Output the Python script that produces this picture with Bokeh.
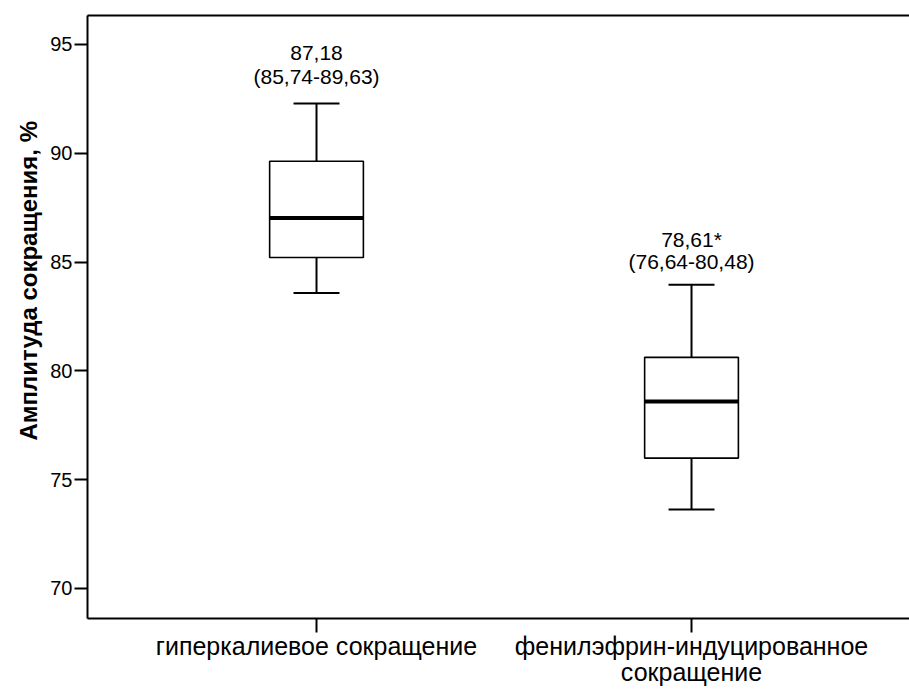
from bokeh.plotting import figure
from bokeh.models import ColumnDataSource, Range1d, FixedTicker, LinearAxis, Title
from bokeh.core.properties import value
from bokeh.transform import dodge
from bokeh.embed import file_html
from bokeh.resources import INLINE

# ---- data ----
categories = ["гиперкалиевое сокращение", "фенилэфрин-индуцированное\nсокращение"]
whisker_low = [83.58, 73.63]
q1 = [85.21, 75.99]
median = [87.03, 78.59]
q3 = [89.63, 80.62]
whisker_high = [92.29, 83.96]
label_value = ["87,18", "78,61*"]
label_ci = ["(85,74-89,63)", "(76,64-80,48)"]
y_ticks = [70, 75, 80, 85, 90, 95]
y_title = "Амплитуда сокращения, %"

# ---- style ----
FONT = "Liberation Sans"
Y_START, Y_END = 68.62, 96.33
VALUE_OFFSETS = [-50, -45]   # px above the upper whisker
CI_OFFSETS = [-27, -23]

positions = list(range(len(categories)))
src = ColumnDataSource(dict(
    x=positions, lo=whisker_low, q1=q1, med=median, q3=q3, hi=whisker_high,
    lv=label_value, ci=label_ci,
    voff=VALUE_OFFSETS, coff=CI_OFFSETS,
))

p = figure(width=909, height=689, output_backend="svg", toolbar_location=None,
           x_range=Range1d(-0.6107, 1.5813), y_range=Range1d(Y_START, Y_END),
           min_border_left=87, min_border_right=0, min_border_top=15,
           min_border_bottom=71)
p.background_fill_color = "white"
p.border_fill_color = "white"
p.outline_line_color = None
p.xgrid.visible = False
p.ygrid.visible = False

# y axis
ya = p.yaxis[0]
ya.ticker = FixedTicker(ticks=y_ticks)
ya.axis_line_width = 2
ya.axis_line_color = "black"
ya.major_tick_line_width = 2
ya.major_tick_line_color = "black"
ya.major_tick_in = 0
ya.major_tick_out = 13
ya.minor_tick_line_color = None
ya.major_label_text_font = FONT
ya.major_label_text_font_size = "20px"
ya.major_label_text_color = "black"
ya.major_label_standoff = 2

# y title (placed off-centre as in the reference)
p.add_layout(Title(text=y_title, align="left", offset=178, text_font=FONT,
                   text_font_size="24px", text_font_style="bold", text_color="black",
                   standoff=12), "left")

# x axis
xa = p.xaxis[0]
xa.ticker = FixedTicker(ticks=positions)
xa.major_label_overrides = {i: c for i, c in zip(positions, categories)}
xa.axis_line_width = 2
xa.axis_line_color = "black"
xa.major_tick_line_width = 2
xa.major_tick_line_color = "black"
xa.major_tick_in = 0
xa.major_tick_out = 14
xa.minor_tick_line_color = None
xa.major_label_text_font = FONT
xa.major_label_text_font_size = "25px"
xa.major_label_text_line_height = 0.95
xa.major_label_text_color = "black"
xa.major_label_standoff = -1

# top frame line
top = LinearAxis(ticker=FixedTicker(ticks=[]), axis_line_width=2, axis_line_color="black",
                 major_tick_in=0, major_tick_out=0, minor_tick_line_color=None,
                 major_label_standoff=0)
p.add_layout(top, "above")

# whiskers
p.segment(x0="x", y0="q3", x1="x", y1="hi", source=src, line_color="black", line_width=2)
p.segment(x0="x", y0="lo", x1="x", y1="q1", source=src, line_color="black", line_width=2)
p.segment(x0=dodge("x", -0.0613), y0="hi", x1=dodge("x", 0.0613), y1="hi", source=src,
          line_color="black", line_width=2)
p.segment(x0=dodge("x", -0.0613), y0="lo", x1=dodge("x", 0.0613), y1="lo", source=src,
          line_color="black", line_width=2)
# boxes
p.vbar(x="x", width=0.25, bottom="q1", top="q3", source=src, fill_color="white",
       line_color="black", line_width=1.6)
# medians
p.segment(x0=dodge("x", -0.125), y0="med", x1=dodge("x", 0.125), y1="med", source=src,
          line_color="black", line_width=4)

# labels above boxes
p.text(x="x", y="hi", text="lv", source=src, y_offset="voff", text_align="center",
       text_baseline="middle", text_font=value(FONT), text_font_size="21px", text_color="black")
p.text(x="x", y="hi", text="ci", source=src, y_offset="coff", text_align="center",
       text_baseline="middle", text_font=value(FONT), text_font_size="21px", text_color="black")

open("out.html", "w").write(file_html(p, INLINE))
